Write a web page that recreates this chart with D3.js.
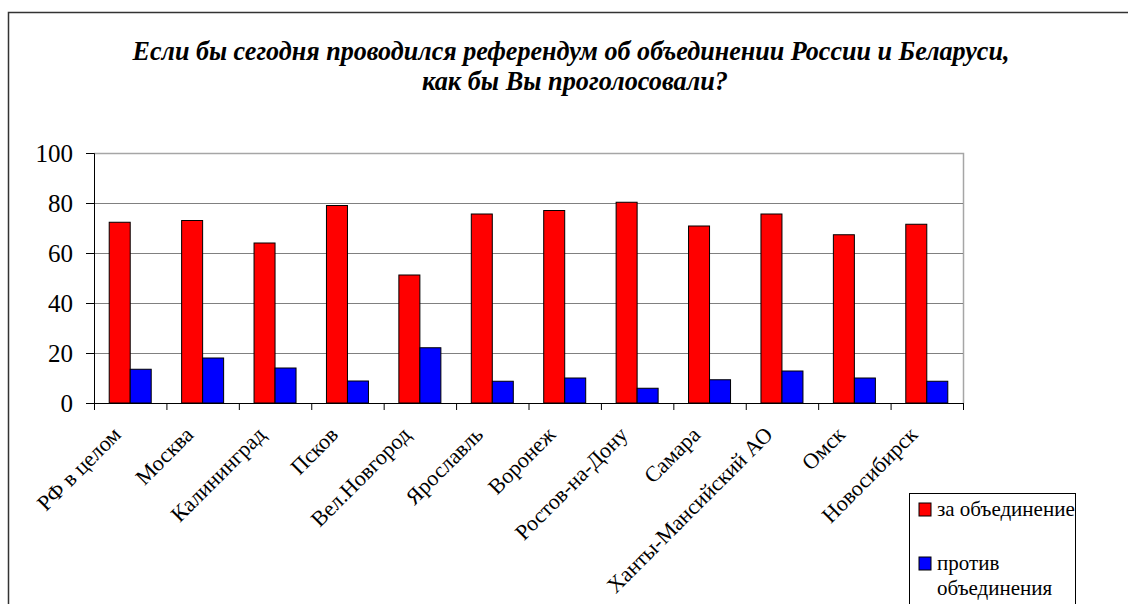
<!DOCTYPE html>
<html>
<head>
<meta charset="utf-8">
<script src="https://cdn.jsdelivr.net/npm/d3@7"></script>
</head>
<body style="margin:0">
<script>
var regions = ["РФ в целом", "Москва", "Калининград", "Псков", "Вел.Новгород", "Ярославль",
  "Воронеж", "Ростов-на-Дону", "Самара", "Ханты-Мансийский АО", "Омск", "Новосибирск"];
var forUnion = [72.3, 73, 64, 79, 51.2, 75.6, 77, 80.3, 70.8, 75.6, 67.3, 71.5];
var againstUnion = [13.5, 18, 14, 8.8, 22.1, 8.7, 10, 5.9, 9.3, 12.8, 10, 8.7];
var seriesNames = ["за объединение", "против объединения"];
var yTicks = [0, 20, 40, 60, 80, 100];
var titleLines = ["Если бы сегодня проводился референдум об объединении России и Беларуси,",
  "как бы Вы проголосовали?"];

var FONT = "'Liberation Serif'";

function drawChart() {
  var width = 1128, height = 604;
  var margin = {top: 153, right: 165, bottom: 201, left: 94};
  var plotW = width - margin.left - margin.right;
  var plotH = height - margin.top - margin.bottom;

  var svg = d3.select("body").append("svg").attr("width", width).attr("height", height);

  // outer chart frame
  svg.append("rect").attr("x", 8.5).attr("y", 12.5).attr("width", 1200).attr("height", 700)
    .attr("fill", "none").attr("stroke", "#333").attr("stroke-width", 1.5);

  // title
  svg.selectAll(".title").data(titleLines).enter().append("text")
    .attr("class", "title")
    .attr("x", function(d, i) { return i == 0 ? 571 : 575; })
    .attr("y", function(d, i) { return 60 + i * 30; })
    .attr("text-anchor", "middle")
    .style("font-family", FONT)
    .style("font-size", "27px").style("font-weight", "bold").style("font-style", "italic")
    .attr("textLength", function(d, i) { return i == 0 ? 877 : 306; })
    .attr("lengthAdjust", "spacingAndGlyphs")
    .text(function(d) { return d; });

  var g = svg.append("g").attr("transform", "translate(" + margin.left + "," + margin.top + ")");

  var y = d3.scaleLinear().domain([0, 100]).range([plotH, 0]);
  var x0 = d3.scaleBand().domain(regions).range([0, plotW]).paddingInner(0.42).paddingOuter(0.21);
  var x1 = d3.scaleBand().domain(seriesNames).range([0, x0.bandwidth()]);
  var colors = d3.scaleOrdinal().domain(seriesNames).range(["#ff0000", "#0000ff"]);

  // plot area border (top/right) in light gray
  g.append("path").attr("d", "M0,0.5H" + (plotW + 0.5) + "V" + plotH)
    .attr("fill", "none").attr("stroke", "#a6a6a6").attr("stroke-width", 1.5);

  // gridlines
  g.selectAll(".grid").data(yTicks.filter(function(t) { return t > 0 && t < 100; })).enter()
    .append("line").attr("class", "grid")
    .attr("x1", 0).attr("x2", plotW)
    .attr("y1", function(d) { return Math.round(y(d)) + 0.5; })
    .attr("y2", function(d) { return Math.round(y(d)) + 0.5; })
    .attr("stroke", "#808080").attr("stroke-width", 1.2);

  // bars
  var groups = g.selectAll(".grp").data(regions).enter().append("g")
    .attr("transform", function(d) { return "translate(" + x0(d) + ",0)"; });
  groups.selectAll("rect").data(function(d, i) {
      return [{s: seriesNames[0], v: forUnion[i]}, {s: seriesNames[1], v: againstUnion[i]}];
    }).enter().append("rect")
    .attr("x", function(d) { return x1(d.s); })
    .attr("y", function(d) { return y(d.v); })
    .attr("width", x1.bandwidth())
    .attr("height", function(d) { return plotH - y(d.v); })
    .attr("fill", function(d) { return colors(d.s); })
    .attr("stroke", "#000").attr("stroke-width", 1);

  // y axis
  var yAxis = g.append("g").call(d3.axisLeft(y).tickValues(yTicks).tickSize(8).tickPadding(13));
  yAxis.selectAll("text").attr("fill", "#000")
    .style("font-family", FONT).style("font-size", "25px");
  yAxis.selectAll("line, path").attr("stroke", "#000");

  // x axis with ticks at category boundaries
  var xIdx = d3.scaleLinear().domain([0, regions.length]).range([0, plotW]);
  var xAxis = g.append("g").attr("transform", "translate(0," + plotH + ")")
    .call(d3.axisBottom(xIdx).tickValues(d3.range(regions.length + 1)).tickFormat("").tickSize(7).tickSizeOuter(0));
  xAxis.selectAll("line, path").attr("stroke", "#000");

  // category labels, rotated
  g.selectAll(".xlab").data(regions).enter().append("text")
    .attr("class", "xlab")
    .attr("transform", function(d) {
      var cx = x0(d) + x0.bandwidth() / 2 - 8;
      return "translate(" + cx + "," + (plotH + 33) + ") rotate(-45)";
    })
    .attr("text-anchor", "end")
    .style("font-family", FONT)
    .style("font-size", "22px")
    .text(function(d) { return d; });

  // legend
  var lg = svg.append("g");
  lg.append("rect").attr("x", 909.5).attr("y", 493.5).attr("width", 166).attr("height", 130)
    .attr("fill", "#fff").attr("stroke", "#000").attr("stroke-width", 1);
  var legendRows = [
    {s: seriesNames[0], lines: ["за объединение"], y: 503},
    {s: seriesNames[1], lines: ["против", "объединения"], y: 557}
  ];
  legendRows.forEach(function(r) {
    lg.append("rect").attr("x", 919).attr("y", r.y).attr("width", 12).attr("height", 13)
      .attr("fill", colors(r.s)).attr("stroke", "#000").attr("stroke-width", 1);
    r.lines.forEach(function(t, k) {
      lg.append("text").attr("x", 937).attr("y", r.y + 13 + k * 25)
        .style("font-family", FONT)
        .style("font-size", "21px").text(t);
    });
  });
}
drawChart();
</script>
</body>
</html>
